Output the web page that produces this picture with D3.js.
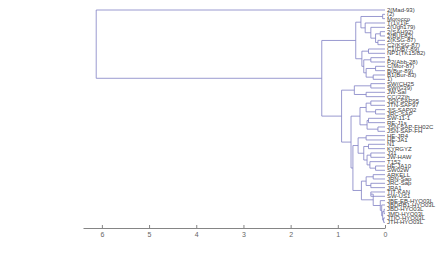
<!DOCTYPE html>
<html>
<head>
<meta charset="utf-8">
<script src="https://cdn.jsdelivr.net/npm/d3@7"></script>
<style>
  body { margin: 0; background: #fff; }
  svg { display: block; }
  .links path { fill: none; stroke: #8080c4; stroke-width: 0.8; }
  .leaf text { font: 6px "Liberation Sans", Arial, sans-serif; fill: #3a3a3a; }
  .axis text { font: 7px "Liberation Sans", Arial, sans-serif; fill: #666; }
  .axis path, .axis line { stroke: #666; stroke-width: 0.8; }
</style>
</head>
<body>
<svg width="444" height="258"></svg>
<script>
var svg = d3.select("svg");

// leaf labels, top to bottom
var leafLabels = [
  "2(Mad-93)", "(2)", "Morocco", "T(1)(1)F", "2(Ugh179)", "2(SAH92)", "2(BUF82)",
  "2(KSG-87)", "C2(KSG-87)", "C1(DB7-89)", "NP1(TK15/82)", "1", "P2(Abb-28)",
  "C(Mor-87)", "B(Bur-89)", "B1(Bur-83)", "1)", "SW(CH25", "SW(G39)", "JW-Sal",
  "CC(22)h", "JSN-SAP95", "JTN-SAP97", "JIS-SAP02", "JRC-SAP", "SW-11-1", "RE-J1s",
  "JSN-SAP-FH02C", "JSN-SAP-FH", "HE-JR4", "HE-JA1", "N1", "KYRGYZ", "J31",
  "JW-HAW", "T152", "HE-JA10", "SW02W", "ARKELL", "JRN-Sap", "JRC-Sap", "JRA1",
  "TIT-KAN", "SW-US1", "JBE-EB-HYO03L", "JBDRB1-HYO03L", "JBD-HYO03L",
  "JMD-HYO03L", "JTIO-HYO03L", "JTH-HYO03L"
];

// linkage: [child a, child b, height]; ids >= 50 refer to earlier merges
var linkage = [
  [1, 2, 0.05], [5, 6, 0.10], [7, 8, 0.15], [51, 52, 0.20], [4, 53, 0.30],
  [3, 54, 0.42], [50, 55, 0.51], [9, 10, 0.35], [11, 12, 0.30], [13, 14, 0.20],
  [15, 16, 0.25], [59, 60, 0.40], [58, 61, 0.45], [57, 62, 0.49], [56, 63, 0.62],
  [17, 18, 0.30], [19, 20, 0.40], [65, 66, 0.65],
  [21, 22, 0.30], [23, 24, 0.20], [68, 69, 0.40], [25, 26, 0.35], [27, 28, 0.15],
  [71, 72, 0.38], [70, 73, 0.53],
  [29, 30, 0.40], [31, 32, 0.35], [33, 34, 0.30], [36, 37, 0.20], [35, 78, 0.32],
  [77, 79, 0.38], [76, 80, 0.45], [75, 81, 0.57],
  [38, 39, 0.25], [40, 41, 0.30], [83, 84, 0.40], [42, 43, 0.30],
  [46, 47, 0.02], [48, 49, 0.03], [87, 88, 0.05], [45, 89, 0.07], [44, 90, 0.10],
  [86, 91, 0.25], [85, 92, 0.50], [82, 93, 0.68], [74, 94, 0.72], [67, 95, 0.92],
  [64, 96, 1.34], [0, 97, 6.12]
];

var tickValues = [0, 1, 2, 3, 4, 5, 6];

var n = leafLabels.length;
var x = d3.scaleLinear().domain([0, 6.4]).range([385, 83]);
var y = d3.scaleLinear().domain([0, n - 1]).range([10, 222.3]);

// position of every leaf / merged cluster
var pos = leafLabels.map(function(d, i) { return {h: 0, y: y(i)}; });
linkage.forEach(function(m) {
  pos.push({h: m[2], y: (pos[m[0]].y + pos[m[1]].y) / 2});
});

svg.append("g")
    .attr("class", "links")
  .selectAll("path")
  .data(linkage)
  .enter().append("path")
    .attr("d", function(m) {
      var a = pos[m[0]], b = pos[m[1]];
      return "M" + x(a.h) + "," + a.y + "H" + x(m[2]) + "V" + b.y + "H" + x(b.h);
    });

svg.append("g")
    .attr("class", "leaf")
  .selectAll("text")
  .data(leafLabels)
  .enter().append("text")
    .attr("x", 387)
    .attr("y", function(d, i) { return y(i); })
    .attr("dy", "0.35em")
    .text(function(d) { return d; });

svg.append("g")
    .attr("class", "axis")
    .attr("transform", "translate(0,228)")
    .call(d3.axisBottom(x).tickValues(tickValues).tickFormat(d3.format("d"))
      .tickSizeInner(-3).tickSizeOuter(0).tickPadding(4.5));
</script>
</body>
</html>
